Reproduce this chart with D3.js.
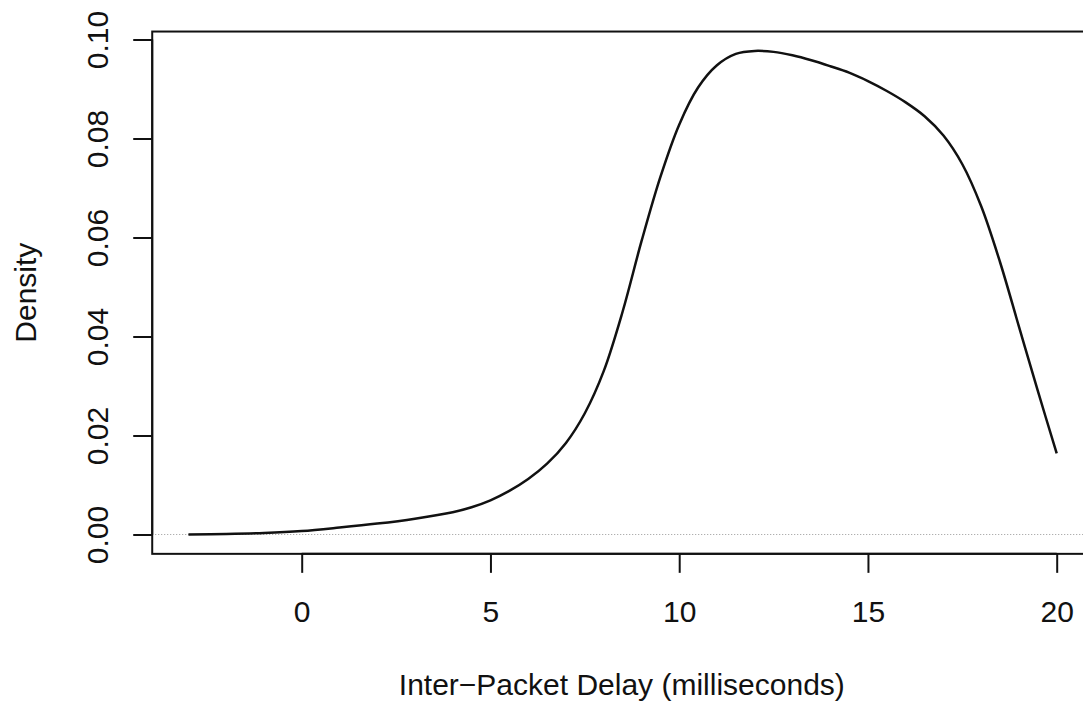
<!DOCTYPE html>
<html>
<head>
<meta charset="utf-8">
<script src="https://cdn.jsdelivr.net/npm/d3@7"></script>
<style>
  body { margin: 0; background: #fff; }
  svg { display: block; }
  text { font-family: "Liberation Sans", Arial, Helvetica, sans-serif; fill: #111; }
</style>
</head>
<body>
<div id="here"></div>
<script>
// density estimate
const delayMs = [-3, -2, -1, 0, 1, 2, 3, 4, 4.5, 5, 5.5, 6, 6.5, 7, 7.5, 8, 8.5, 9, 9.5, 10, 10.5,
  11, 11.5, 12, 12.5, 13, 13.5, 14, 14.5, 15, 15.5, 16, 16.5, 17, 17.5, 18, 18.5, 19, 19.5, 20];
const density = [0.0000, 0.0001, 0.0003, 0.0007, 0.0014, 0.0022, 0.0032, 0.0045, 0.0055, 0.0069,
  0.0088, 0.0112, 0.0143, 0.0185, 0.0245, 0.0330, 0.0450, 0.0592, 0.0722, 0.0828, 0.0903,
  0.0948, 0.0971, 0.0977, 0.0975, 0.0968, 0.0958, 0.0946, 0.0933, 0.0916, 0.0896,
  0.0873, 0.0845, 0.0806, 0.0748, 0.0663, 0.0550, 0.0420, 0.0290, 0.0164];

const xTicks = [0, 5, 10, 15, 20];
const yTicks = [0, 0.02, 0.04, 0.06, 0.08, 0.10];

const width = 1083;
const height = 701;

const svg = d3.select("#here")
  .append("svg")
  .attr("width", width)
  .attr("height", height);

// scales (R style: 4% padding on data range)
const xScale = d3.scaleLinear()
  .domain([0, 20])
  .range([301.7, 1056.7]);

const yScale = d3.scaleLinear()
  .domain([0, 0.1])
  .range([534.5, 39.5]);

const xMin = d3.min(delayMs), xMax = d3.max(delayMs);
const yMax = d3.max(density);
const box = {
  left: xScale(xMin - 0.04 * (xMax - xMin)) - 1.5,
  right: xScale(xMax + 0.04 * (xMax - xMin)),
  top: yScale(yMax * 1.04),
  bottom: yScale(-0.04 * yMax)
};

// zero line
svg.append("line")
  .attr("x1", box.left)
  .attr("x2", box.right)
  .attr("y1", yScale(0))
  .attr("y2", yScale(0))
  .attr("stroke", "#999")
  .attr("stroke-width", 1)
  .attr("stroke-dasharray", "1,2");

// density curve
const line = d3.line()
  .x((d, i) => xScale(delayMs[i]))
  .y(d => yScale(d))
  .curve(d3.curveCatmullRom.alpha(0.5));

svg.append("path")
  .datum(density)
  .attr("d", line)
  .attr("fill", "none")
  .attr("stroke", "#111")
  .attr("stroke-width", 2.5);

// plot box
svg.append("rect")
  .attr("x", box.left)
  .attr("y", box.top)
  .attr("width", box.right - box.left)
  .attr("height", box.bottom - box.top)
  .attr("fill", "none")
  .attr("stroke", "#111")
  .attr("stroke-width", 2);

// axes
const xAxis = svg.append("g")
  .attr("transform", `translate(0, ${box.bottom})`)
  .call(d3.axisBottom(xScale).tickValues(xTicks).tickSize(19).tickFormat(d3.format("d")));

xAxis.select(".domain")
  .attr("d", `M${xScale(0)},0H${xScale(20)}`)
  .attr("stroke", "#111")
  .attr("stroke-width", 2);
xAxis.selectAll(".tick line").attr("stroke", "#111").attr("stroke-width", 2);
xAxis.selectAll(".tick text")
  .attr("y", 622 - box.bottom)
  .attr("dy", 0)
  .attr("font-size", 30)
  .style("font-family", "Liberation Sans, Arial, sans-serif")
  .attr("fill", "#111");

const yAxis = svg.append("g")
  .attr("transform", `translate(${box.left}, 0)`)
  .call(d3.axisLeft(yScale).tickValues(yTicks).tickSize(19).tickFormat(d3.format(".2f")));

yAxis.select(".domain")
  .attr("d", `M0,${yScale(0)}V${yScale(0.1)}`)
  .attr("stroke", "#111")
  .attr("stroke-width", 2);
yAxis.selectAll(".tick line").attr("stroke", "#111").attr("stroke-width", 2);
yAxis.selectAll(".tick text")
  .attr("x", 0)
  .attr("dy", 0)
  .attr("transform", `translate(${108 - box.left}, 0) rotate(-90)`)
  .attr("text-anchor", "middle")
  .attr("font-size", 30)
  .style("font-family", "Liberation Sans, Arial, sans-serif")
  .attr("fill", "#111");

// axis labels
svg.append("text")
  .attr("x", (box.left + box.right) / 2)
  .attr("y", 695)
  .attr("text-anchor", "middle")
  .attr("font-size", 30)
  .text("Inter\u2212Packet Delay (milliseconds)");

svg.append("text")
  .attr("transform", `translate(36, ${(box.top + box.bottom) / 2}) rotate(-90)`)
  .attr("text-anchor", "middle")
  .attr("font-size", 30)
  .text("Density");
</script>
</body>
</html>
